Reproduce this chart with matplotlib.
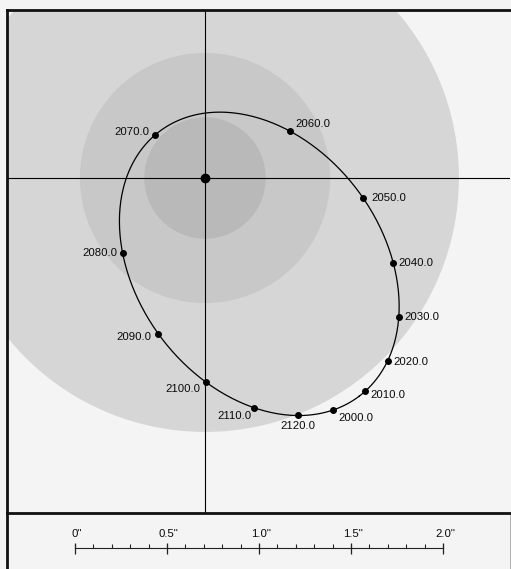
import numpy as np
import matplotlib.pyplot as plt
from matplotlib.patches import Circle

plt.rcParams['font.family'] = ['Liberation Sans', 'DejaVu Sans']

# epochs along the orbit and relative positions of the companion (arcsec, E-W / N-S)
epochs = [2000, 2010, 2020, 2030, 2040, 2050, 2060, 2070, 2080, 2090, 2100, 2110, 2120]
pos_x = [0.696, 0.870, 0.995, 1.054, 1.022, 0.859, 0.462, -0.272, -0.446, -0.255, 0.005, 0.266, 0.505]
pos_y = [-1.261, -1.158, -0.995, -0.755, -0.462, -0.109, 0.255, 0.234, -0.408, -0.848, -1.109, -1.250, -1.288]

# shaded zones around the primary (radius in arcsec, grey level)
zone_radii = [1.38, 0.68, 0.33]
zone_colors = ['#d6d6d6', '#c8c8c8', '#b9b9b9']

# scale bar
scale_major = [0.0, 0.5, 1.0, 1.5, 2.0]
scale_labels = ['0"', '0.5"', '1.0"', '1.5"', '2.0"']
scale_minor = np.arange(0, 21) / 10

# label placement (points offset, alignment)
label_offsets = [(4, -6, 'left'), (4, -3, 'left'), (4, -1, 'left'), (4, 0, 'left'),
                 (4, 0, 'left'), (6, 0, 'left'), (4, 5, 'left'), (-4, 2, 'right'),
                 (-4, 0, 'right'), (-5, -2, 'right'), (-4, -5, 'right'),
                 (-2, -6, 'right'), (0, -8, 'center')]

W, H = 511, 569
px = 184.0            # pixels per arcsec
cx, cy = 205, 178     # primary in pixels

fig = plt.figure(figsize=(W / 100, H / 100), dpi=100, facecolor='#f4f4f4')

# scale bar panel (drawn first, transparent, so the divider stays on top)
sb = fig.add_axes([7 / W, 0, (510 - 7) / W, (H - 513) / H])
sb.patch.set_visible(False)
sb.set_xlim((7 - 75) / px, (510 - 75) / px)
sb.set_ylim(0, H - 513)
sb.set_xticks([])
sb.set_yticks([])
sb.spines['left'].set_linewidth(2.0)
sb.spines['left'].set_color('#111111')
sb.spines['top'].set_visible(False)
sb.spines['bottom'].set_visible(False)
sb.spines['right'].set_color('#999999')
sb.spines['right'].set_linewidth(0.5)

base = 21
sb.plot([0, 2.0], [base, base], color='#222222', lw=0.8)
sb.vlines(scale_minor, base, base + 4, color='#222222', lw=0.8)
sb.vlines(scale_major, base - 6, base + 5, color='#222222', lw=0.9)
for v, lab in zip(scale_major, scale_labels):
    sb.text(v + 0.01, 35, lab, ha='center', va='center', fontsize=8.2, color='#0a0a0a')

# main orbit panel
ax = fig.add_axes([7 / W, (H - 513) / H, (510 - 7) / W, (513 - 10) / H])
ax.set_facecolor('#f4f4f4')
ax.set_xlim((7 - cx) / px, (510 - cx) / px)
ax.set_ylim((cy - 513) / px, (cy - 10) / px)
ax.set_xticks([])
ax.set_yticks([])
for side in ['top', 'left', 'bottom']:
    ax.spines[side].set_linewidth(2.0)
    ax.spines[side].set_color('#111111')
ax.spines['right'].set_visible(False)

for r, c in zip(zone_radii, zone_colors):
    ax.add_patch(Circle((0, 0), r, facecolor=c, edgecolor='none', zorder=1))

ax.axhline(0, color='black', lw=0.8, zorder=2)
ax.axvline(0, color='black', lw=0.8, zorder=2)

# fit a conic through the epoch positions to trace the orbit
x = np.array(pos_x)
y = np.array(pos_y)
Amat = np.column_stack([x**2, x * y, y**2, x, y])
A, B, C, D, E = np.linalg.lstsq(Amat, np.ones_like(x), rcond=None)[0]
x0, y0 = np.linalg.solve([[2 * A, B], [B, 2 * C]], [-D, -E])
F0 = A * x0**2 + B * x0 * y0 + C * y0**2 + D * x0 + E * y0 - 1
lam, vec = np.linalg.eigh([[A, B / 2], [B / 2, C]])
semi = np.sqrt(-F0 / lam)
t = np.linspace(0, 2 * np.pi, 400)
ell = vec @ np.vstack([semi[0] * np.cos(t), semi[1] * np.sin(t)])
ax.plot(ell[0] + x0, ell[1] + y0, color='black', lw=0.9, zorder=3)

ax.plot(pos_x, pos_y, 'o', color='black', ms=4, zorder=4)
ax.plot([0], [0], 'o', color='black', ms=6, zorder=4)

for ep, xx, yy, (dx, dy, ha) in zip(epochs, pos_x, pos_y, label_offsets):
    ax.annotate(f'{ep:.1f}', (xx, yy), xytext=(dx, dy), textcoords='offset points',
                ha=ha, va='center', fontsize=8.2, color='#0a0a0a', zorder=5)

fig.savefig('out.png', dpi=100, facecolor=fig.get_facecolor())
